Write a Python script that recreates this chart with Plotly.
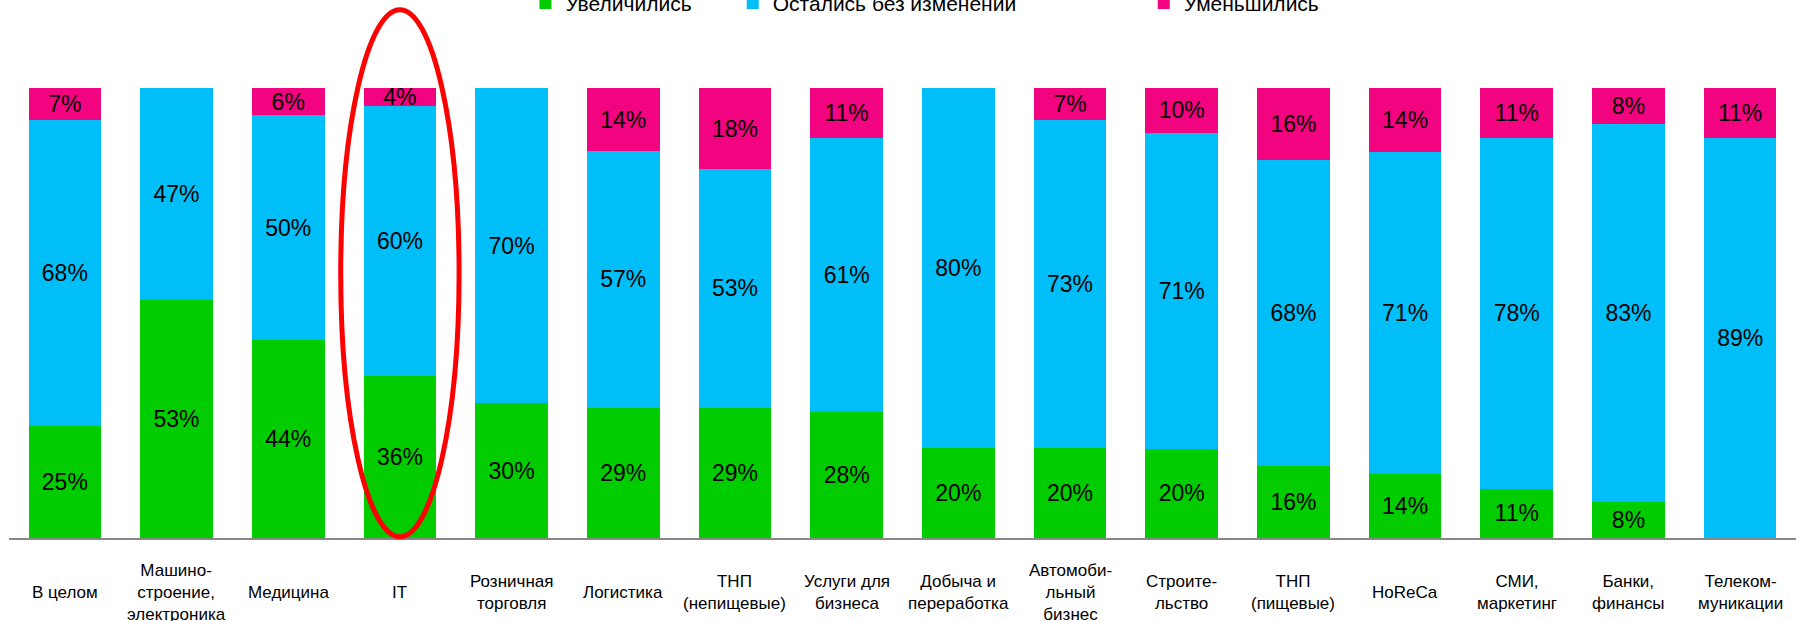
import plotly.graph_objects as go

categories = [
    "В целом", "Машино-<br>строение,<br>электроника", "Медицина", "IT",
    "Розничная<br>торговля", "Логистика", "ТНП<br>(непищевые)", "Услуги для<br>бизнеса",
    "Добыча и<br>переработка", "Автомоби-<br>льный<br>бизнес", "Строите-<br>льство",
    "ТНП<br>(пищевые)", "HoReCa", "СМИ,<br>маркетинг", "Банки,<br>финансы", "Телеком-<br>муникации",
]
increased = [25, 53, 44, 36, 30, 29, 29, 28, 20, 20, 20, 16, 14, 11, 8, 0]
unchanged = [68, 47, 50, 60, 70, 57, 53, 61, 80, 73, 71, 68, 71, 78, 83, 89]
decreased = [7, 0, 6, 4, 0, 14, 18, 11, 0, 7, 10, 16, 14, 11, 8, 11]
series_names = ["Увеличились", "Остались без изменений", "Уменьшились"]
colors = ["#00CC00", "#00BEF7", "#F2037F"]
legend_x = [0.289, 0.405, 0.635]
highlight = "IT"

FONT = "Liberation Sans, Arial, sans-serif"
n = len(categories)
x = list(range(n))
fig = go.Figure()
legend_ids = ["legend", "legend2", "legend3"]
for name, vals, col, lid in zip(series_names, [increased, unchanged, decreased], colors, legend_ids):
    fig.add_trace(go.Bar(
        x=x, y=vals, name=name, marker=dict(color=col, line=dict(width=0)),
        text=[f"{v}%" if v > 0 else "" for v in vals],
        textposition="inside", insidetextanchor="middle",
        textfont=dict(family=FONT, size=23, color="black"),
        hoverinfo="skip", legend=lid,
    ))

for i, c in enumerate(categories):
    fig.add_annotation(x=i, xref="x", y=-0.12, yref="paper", text=c, showarrow=False,
                       yanchor="middle", align="center",
                       font=dict(family=FONT, size=17, color="black"))

hi = categories.index(highlight)
fig.add_shape(type="circle", xref="paper", yref="paper",
              x0=(hi + 0.5 - 0.53) / n, x1=(hi + 0.5 + 0.53) / n, y0=0.003, y1=1.174,
              line=dict(color="#FF0000", width=5), layer="above")

leg_common = dict(orientation="h", xanchor="left", y=1.188, yanchor="middle", itemwidth=30,
                  font=dict(family=FONT, size=21, color="black"), bgcolor="rgba(0,0,0,0)")
layout_legends = {lid: dict(leg_common, x=lx) for lid, lx in zip(legend_ids, legend_x)}

fig.update_layout(
    width=1803, height=621,
    barmode="stack", barnorm="percent", bargap=0.35,
    plot_bgcolor="white", paper_bgcolor="white",
    margin=dict(l=9, r=7, t=88, b=83, autoexpand=False),
    uniformtext=dict(minsize=23, mode="show"),
    showlegend=True,
    xaxis=dict(range=[-0.5, n - 0.5], showticklabels=False, showgrid=False,
               showline=True, linecolor="#888888", linewidth=2, zeroline=False, ticks=""),
    yaxis=dict(range=[0, 100], visible=False, showgrid=False, zeroline=False),
    **layout_legends,
)
fig.write_html("out.html", config={"displayModeBar": False},
               post_script="document.body.style.margin='0';document.body.style.overflow='hidden';")
